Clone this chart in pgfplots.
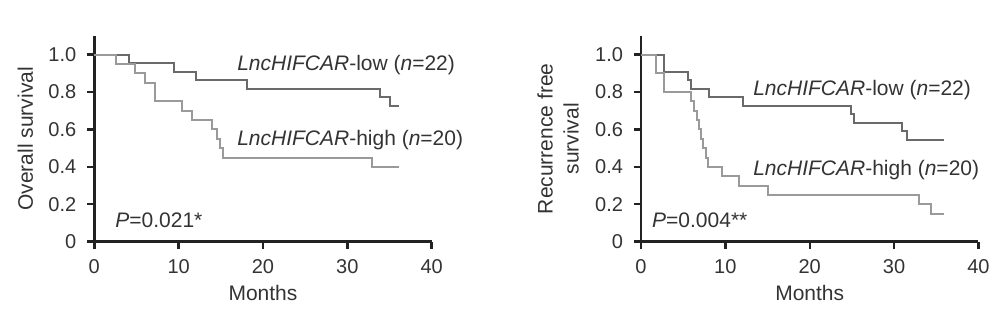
\documentclass[border=0pt]{standalone}
\usepackage{fontspec}
\setmainfont{Liberation Sans}
\usepackage{pgfplots}
\pgfplotsset{compat=1.18}
\definecolor{axc}{HTML}{222222}
\definecolor{lowc}{HTML}{6A6A6A}
\definecolor{highc}{HTML}{9A9A9A}
\definecolor{txt}{HTML}{333333}
\pgfplotsset{km/.style={
  scale only axis, width=168.7pt, height=102.85pt,
  xmin=0, xmax=40, ymin=0, ymax=1.1,
  axis lines=left, axis line style={-, line width=1.2pt, color=axc},
  tick align=outside, major tick length=3.5pt,
  every tick/.style={line width=1.2pt, color=axc},
  xtick={0,10,20,30,40},
  ytick={0,0.2,0.4,0.6,0.8,1.0},
  yticklabels={0,0.2,0.4,0.6,0.8,1.0},
  /pgf/number format/assume math mode=true,
  tick label style={font=\fontsize{10}{12}\selectfont, text=txt},
  xticklabel style={yshift=-2pt},
  yticklabel style={xshift=-2pt},
  label style={font=\fontsize{10.5}{13}\selectfont, text=txt},
  xlabel={Months},
  xlabel style={at={(axis description cs:0.5,0)}, anchor=center, yshift=-25.6pt},
  clip=false,
  lowst/.style={const plot, no marks, color=lowc, line width=1pt},
  highst/.style={const plot, no marks, color=highc, line width=1pt},
}}
\begin{document}
\begin{tikzpicture}
\useasboundingbox (0,0) rectangle (502pt,157.5pt);
% Overall survival
\begin{axis}[km, at={(47.15pt,36.65pt)}, anchor=south west,
  ylabel={Overall survival},
  ylabel style={at={(axis description cs:0,0.5)}, anchor=center, rotate=0, yshift=34.5pt}]
\addplot[lowst] coordinates {(0,1) (4.1,0.955) (9.4,0.909) (12.1,0.864) (18.1,0.818) (33.9,0.773) (35.1,0.727) (36.1,0.727)};
\addplot[highst] coordinates {(0,1) (2.6,0.95) (4.8,0.90) (6.0,0.85) (7.2,0.75) (10.4,0.70) (11.55,0.65) (13.9,0.60) (14.5,0.55) (14.9,0.50) (15.3,0.45) (32.9,0.40) (36.1,0.40)};
\node[anchor=west, text=txt, font=\fontsize{10.5}{13}\selectfont, inner sep=0pt] at (axis cs:16.9,0.946) {\textit{LncHIFCAR}-low (\textit{n}=22)};
\node[anchor=west, text=txt, font=\fontsize{10.5}{13}\selectfont, inner sep=0pt] at (axis cs:16.9,0.545) {\textit{LncHIFCAR}-high (\textit{n}=20)};
\node[anchor=west, text=txt, font=\fontsize{10.5}{13}\selectfont, inner sep=0pt] at (axis cs:2.45,0.116) {\textit{P}=0.021*};
\end{axis}
% Recurrence free survival
\begin{axis}[km, at={(320.5pt,36.65pt)}, anchor=south west,
  ylabel={Recurrence free\\survival},
  ylabel style={at={(axis description cs:0,0.5)}, anchor=center, align=center, yshift=41.5pt}]
\addplot[lowst] coordinates {(0,1) (2.7,0.909) (5.6,0.864) (5.87,0.818) (8.06,0.773) (12.06,0.727) (24.9,0.682) (25.3,0.636) (31.0,0.591) (31.5,0.545) (35.9,0.545)};
\addplot[highst] coordinates {(0,1) (1.8,0.90) (2.7,0.80) (5.87,0.75) (6.27,0.70) (6.67,0.65) (6.86,0.60) (7.15,0.55) (7.39,0.50) (7.66,0.45) (7.94,0.40) (9.66,0.35) (11.65,0.30) (15.05,0.25) (32.9,0.20) (34.4,0.15) (35.9,0.15)};
\node[anchor=west, text=txt, font=\fontsize{10.5}{13}\selectfont, inner sep=0pt] at (axis cs:13.26,0.81) {\textit{LncHIFCAR}-low (\textit{n}=22)};
\node[anchor=west, text=txt, font=\fontsize{10.5}{13}\selectfont, inner sep=0pt] at (axis cs:13.26,0.384) {\textit{LncHIFCAR}-high (\textit{n}=20)};
\node[anchor=west, text=txt, font=\fontsize{10.5}{13}\selectfont, inner sep=0pt] at (axis cs:1.28,0.116) {\textit{P}=0.004**};
\end{axis}
\end{tikzpicture}
\end{document}
